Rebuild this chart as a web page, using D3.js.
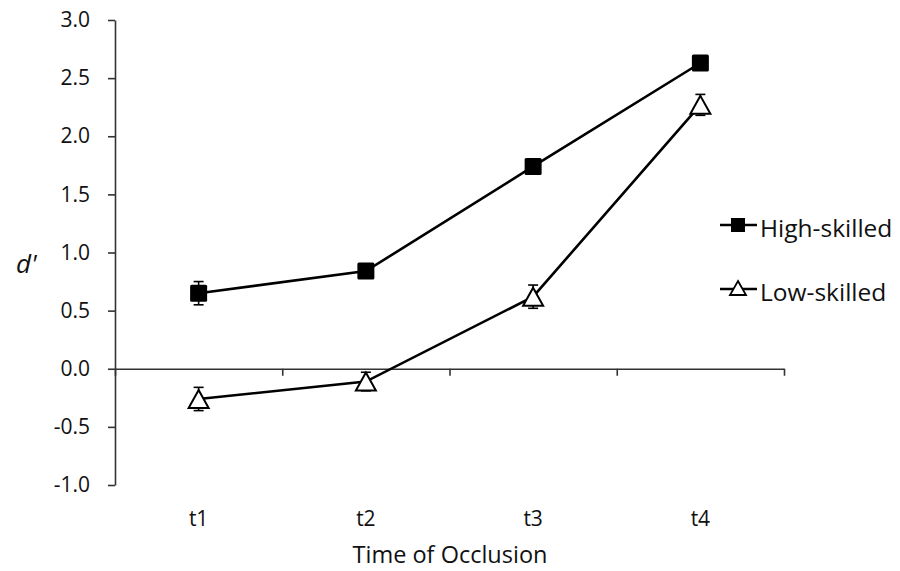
<!DOCTYPE html>
<html>
<head>
<meta charset="utf-8">
<script src="https://cdn.jsdelivr.net/npm/d3@7"></script>
<style>
  body { margin: 0; background: #fff; }
  text { font-family: "Open Sans", sans-serif; fill: #111; }
</style>
</head>
<body>
<svg id="chart"></svg>
<script>
// Data
const categories = ["t1", "t2", "t3", "t4"];
const seriesNames = ["High-skilled", "Low-skilled"];
const highValues = [0.65, 0.84, 1.74, 2.63];
const highErrors = [0.10, 0.05, 0.06, 0.05];
const lowValues = [-0.26, -0.11, 0.62, 2.27];
const lowErrors = [0.10, 0.08, 0.10, 0.09];
const yTicks = [-1.0, -0.5, 0.0, 0.5, 1.0, 1.5, 2.0, 2.5, 3.0];

const width = 900;
const height = 571;

const svg = d3.select("#chart")
    .attr("width", width)
    .attr("height", height);

// Scales
const x = d3.scaleBand()
    .domain(categories)
    .range([115, 784])
    .padding(0);

const y = d3.scaleLinear()
    .domain([-1, 3])
    .range([485, 20]);

const cx = d => x(d) + x.bandwidth() / 2;

// Y axis
const yAxis = svg.append("g")
    .attr("transform", "translate(115,0)")
    .call(d3.axisLeft(y)
        .tickValues(yTicks)
        .tickFormat(d => d.toFixed(1))
        .tickSize(7)
        .tickSizeOuter(0)
        .tickPadding(18));
yAxis.select(".domain").attr("stroke", "#333").attr("stroke-width", 1.6);
yAxis.selectAll(".tick line").attr("stroke", "#333").attr("stroke-width", 1.6);
yAxis.selectAll(".tick text")
    .attr("font-size", 21)
    .attr("font-family", "Open Sans, sans-serif")
    .attr("fill", "#111");

// X axis line at zero, ticks on band boundaries
const xLineAxis = svg.append("g")
    .attr("transform", `translate(0,${y(0)})`)
    .call(d3.axisBottom(d3.scaleLinear().domain([0, 4]).range(x.range()))
        .tickValues([0, 1, 2, 3, 4])
        .tickFormat("")
        .tickSize(7)
        .tickSizeOuter(0));
xLineAxis.select(".domain").attr("stroke", "#333").attr("stroke-width", 1.6);
xLineAxis.selectAll(".tick line").attr("stroke", "#333").attr("stroke-width", 1.6);

// Category labels at the bottom
const xLabels = svg.append("g")
    .attr("transform", "translate(0,511)")
    .call(d3.axisBottom(x).tickSize(0).tickPadding(0));
xLabels.select(".domain").remove();
xLabels.selectAll(".tick text")
    .attr("font-size", 21)
    .attr("font-family", "Open Sans, sans-serif")
    .attr("fill", "#111");

// Axis titles
svg.append("text")
    .attr("x", 450)
    .attr("y", 563)
    .attr("text-anchor", "middle")
    .attr("font-size", 23.5)
    .text("Time of Occlusion");

svg.append("text")
    .attr("x", 16)
    .attr("y", 273)
    .attr("font-size", 26)
    .attr("font-style", "italic")
    .text("d'");

// Markers
const squareSize = 17;
const triW = 20, triH = 18;
const trianglePath = (w, h) => `M0,${-h / 2}L${w / 2},${h / 2}L${-w / 2},${h / 2}Z`;

const line = d3.line()
    .x((d, i) => cx(categories[i]))
    .y(d => y(d));

function drawSeries(values, errors, kind) {
    const g = svg.append("g");
    g.append("path")
        .datum(values)
        .attr("d", line)
        .attr("fill", "none")
        .attr("stroke", "#000")
        .attr("stroke-width", 2.6);

    // error bars
    const eb = g.selectAll(".err")
        .data(values)
        .enter()
        .append("g");
    eb.append("line")
        .attr("x1", (d, i) => cx(categories[i]))
        .attr("x2", (d, i) => cx(categories[i]))
        .attr("y1", (d, i) => y(d + errors[i]))
        .attr("y2", (d, i) => y(d - errors[i]))
        .attr("stroke", "#000")
        .attr("stroke-width", 1.6);
    [1, -1].forEach(s => {
        eb.append("line")
            .attr("x1", (d, i) => cx(categories[i]) - 5)
            .attr("x2", (d, i) => cx(categories[i]) + 5)
            .attr("y1", (d, i) => y(d + s * errors[i]))
            .attr("y2", (d, i) => y(d + s * errors[i]))
            .attr("stroke", "#000")
            .attr("stroke-width", 1.6);
    });

    if (kind === "square") {
        g.selectAll(".pt")
            .data(values)
            .enter()
            .append("rect")
            .attr("x", (d, i) => cx(categories[i]) - squareSize / 2)
            .attr("y", d => y(d) - squareSize / 2)
            .attr("width", squareSize)
            .attr("height", squareSize)
            .attr("rx", 1.5)
            .attr("fill", "#000");
    } else {
        g.selectAll(".pt")
            .data(values)
            .enter()
            .append("path")
            .attr("d", trianglePath(triW, triH))
            .attr("transform", (d, i) => `translate(${cx(categories[i])},${y(d)})`)
            .attr("fill", "#fff")
            .attr("stroke", "#000")
            .attr("stroke-width", 2);
    }
}

drawSeries(highValues, highErrors, "square");
drawSeries(lowValues, lowErrors, "triangle");

// Legend
const legend = svg.append("g");
const legendRows = [
    { name: seriesNames[0], kind: "square", y: 225 },
    { name: seriesNames[1], kind: "triangle", y: 289 }
];
legendRows.forEach(r => {
    legend.append("line")
        .attr("x1", 720).attr("x2", 757)
        .attr("y1", r.y).attr("y2", r.y)
        .attr("stroke", "#000")
        .attr("stroke-width", 2.6);
    if (r.kind === "square") {
        legend.append("rect")
            .attr("x", 738 - 7).attr("y", r.y - 7)
            .attr("width", 14).attr("height", 14)
            .attr("fill", "#000");
    } else {
        legend.append("path")
            .attr("d", trianglePath(16, 14))
            .attr("transform", `translate(738,${r.y - 1})`)
            .attr("fill", "#fff")
            .attr("stroke", "#000")
            .attr("stroke-width", 1.8);
    }
    legend.append("text")
        .attr("x", 760)
        .attr("y", r.y + 12)
        .attr("font-size", 24.5)
        .text(r.name);
});
</script>
</body>
</html>
